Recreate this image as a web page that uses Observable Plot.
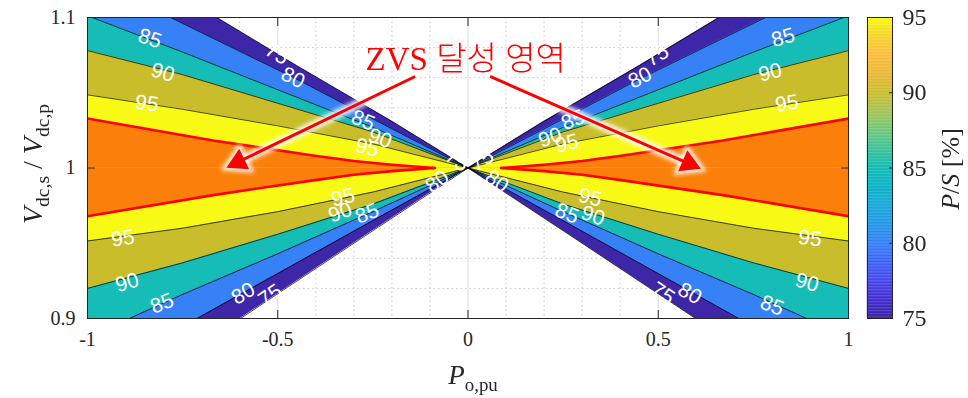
<!DOCTYPE html>
<html><head><meta charset="utf-8">
<script src="https://cdn.jsdelivr.net/npm/d3@7"></script>
<script src="https://cdn.jsdelivr.net/npm/@observablehq/plot@0.6"></script>
<style>
body{margin:0;background:#fff;}
#wrap{position:relative;width:968px;height:398px;overflow:hidden;background:#fff;}
#wrap svg{position:absolute;left:0;top:0;}
.lab{position:absolute;font-family:"Liberation Serif",serif;color:#262626;white-space:nowrap;line-height:1;}
.lab sub{font-size:0.7em;vertical-align:baseline;position:relative;top:0.35em;}
</style></head><body><div id="wrap"></div>
<script>
// ---- contour levels and band colours ----
const levels = [75, 80, 85, 90, 95];
const bandColors = ["#3e26a8", "#3581f5", "#15bdb6", "#c9bd2b", "#f8fa16"];
const zvsColor = "#fa800b";

// ---- contour lines, right half (P >= 0): [P_o,pu, Vs/Vp]; left half is the mirror ----
const up75 = [[0,1],[0.2,1.031],[0.45,1.068],[0.66,1.1]];
const up80 = [[0,1],[0.2,1.026],[0.45,1.059],[0.782,1.1]];
const up85 = [[0,1],[0.25,1.027],[0.5,1.052],[0.75,1.077],[0.988,1.1]];
const up90 = [[0,1],[0.25,1.024],[0.5,1.043],[0.75,1.062],[1,1.078]];
const up95 = [[0,1],[0.25,1.016],[0.5,1.028],[0.75,1.039],[1,1.0486]];
const lo75 = [[0,1],[0.3,0.95],[0.598,0.9]];
const lo80 = [[0,1],[0.3,0.958],[0.712,0.9]];
const lo85 = [[0,1],[0.25,0.971],[0.5,0.943],[0.75,0.916],[0.89,0.9]];
const lo90 = [[0,1],[0.25,0.976],[0.5,0.956],[0.75,0.937],[1,0.920]];
const lo95 = [[0,1],[0.25,0.984],[0.5,0.971],[0.75,0.960],[1,0.9515]];
// ZVS region boundaries (red)
const redUp = [[0.087,1],[0.2,1.0022],[0.3,1.0047],[0.407,1.0083],[0.67,1.0183],[1,1.0329]];
const redLo = [[0.087,1],[0.2,0.9979],[0.3,0.9955],[0.407,0.9918],[0.67,0.982],[1,0.968]];

// ---- contour labels ----
const labText = ["85","90","95","75","80","85","90","95",
                 "75","80","85","90","95","85","90","95",
                 "95","90","85","80","75","95","90","85",
                 "95","90","85","80","75","95","90","85",
                 "80","75","75","80"];
const labX = [-0.836,-0.802,-0.844,-0.502,-0.46,-0.276,-0.231,-0.265,
              0.497,0.452,0.828,0.794,0.838,0.276,0.216,0.26,
              -0.907,-0.896,-0.804,-0.591,-0.52,-0.3285,-0.336,-0.265,
              0.899,0.891,0.799,0.583,0.512,0.321,0.3285,0.26,
              -0.081,-0.029,0.037,0.076];
const labV = [1.086,1.0635,1.0429,1.076,1.060,1.0316,1.0196,1.0136,
              1.0747,1.060,1.0867,1.0635,1.0429,1.0319,1.0203,1.0163,
              0.9532,0.9239,0.91,0.9166,0.9153,0.9804,0.9704,0.9698,
              0.9532,0.9239,0.9086,0.9166,0.9166,0.9804,0.9684,0.9698,
              0.991,1.005,1.005,0.991];
const labAngle = [18,16,8,31,27,22,20,14,
                  -31,-27,-16,-14,-8,-22,-20,-14,
                  -8,-16,-22,-30,-34,-14,-20,-22,
                  8,16,22,30,34,14,20,22,
                  -35,35,-35,35];

// ---- annotation ----
const zvsText = ["ZVS 달성 영역"];
const zvsX = [-0.006], zvsV = [1.0721];
const arrowX1 = [-0.139, 0.058], arrowV1 = [1.0608, 1.0608];
const arrowX2 = [-0.633, 0.61],  arrowV2 = [1.0005, 0.9997];

// ---- axes ----
const xTicks = [-1, -0.5, 0, 0.5, 1];
const yTicks = [0.9, 1, 1.1];
const xMajorGrid = [-0.5, 0, 0.5];
const yMajorGrid = [1];
const xMinorGrid = [-0.9,-0.8,-0.7,-0.6,-0.4,-0.3,-0.2,-0.1,0.1,0.2,0.3,0.4,0.6,0.7,0.8,0.9];
const yMinorGrid = [0.92,0.94,0.96,0.98,1.02,1.04,1.06,1.08];

// ---- colour bar ----
const cbTicks = [75, 80, 85, 90, 95];
const parulaStops = [75,76.25,77.5,78.75,80,81.25,82.5,83.75,85,86.25,87.5,88.75,90,91.25,92.5,93.75,95];
const parulaColors = ["#3e26a8","#4530cf","#4747eb","#3c63f8","#3380f5","#2495e6","#1aa7da","#0cb4c7",
                      "#15bdb5","#3ec39a","#70c779","#a4c455","#cabd2c","#eab83a","#fcbd3d","#f4d52f","#f9fb15"];

// ================= build =================
const W = 968, H = 398, mL = 87, mR = 120, mT = 17, mB = 80;
const kx = (W - mL - mR) / 2, ky = (H - mT - mB) / 0.2;
const fontSerif = "Liberation Serif, Times New Roman, serif";

const upper = [up75, up80, up85, up90, up95];
const lower = [lo75, lo80, lo85, lo90, lo95];
const fillRows = [], lineRows = [], redRows = [];
for (const s of [1, -1]) {
  levels.forEach((L, i) => {
    for (const [half, curve] of [["u", upper[i]], ["l", lower[i]]]) {
      const key = `${s}${half}${L}`;
      curve.forEach(([x, v]) => lineRows.push({key, x: s * x, v}));
      const pts = curve.slice();
      const last = pts[pts.length - 1];
      if (last[0] < 1) pts.push([1, last[1]]);
      pts.forEach(([x, v]) => fillRows.push({key, x: s * x, v, base: 1, fill: bandColors[i]}));
    }
  });
  for (const [half, curve] of [["u", redUp], ["l", redLo]]) {
    const key = `${s}${half}zvs`;
    curve.forEach(([x, v]) => {
      fillRows.push({key, x: s * x, v, base: 1, fill: zvsColor});
      redRows.push({key, x: s * x, v});
    });
  }
}

const labels = labText.map((t, i) => ({t, x: labX[i], v: labV[i], a: labAngle[i]}));

const headR = 8.5;
const arrows = arrowX1.map((_, i) => {
  const dxp = (arrowX2[i] - arrowX1[i]) * kx, dyp = -(arrowV2[i] - arrowV1[i]) * ky;
  const len = Math.hypot(dxp, dyp), ux = dxp / len, uy = dyp / len, back = 1.45 * headR;
  return {x1: arrowX1[i], v1: arrowV1[i],
          hx: arrowX2[i] - ux * back / kx, hv: arrowV2[i] + uy * back / ky,
          rot: Math.atan2(ux, -uy) * 180 / Math.PI};
});

const main = Plot.plot({
  width: W, height: H, marginLeft: mL, marginRight: mR, marginTop: mT, marginBottom: mB,
  x: {domain: [-1, 1], label: null},
  y: {domain: [0.9, 1.1], label: null},
  style: {fontFamily: fontSerif, fontSize: "20px", color: "#262626", background: "transparent", overflow: "visible"},
  marks: [
    Plot.ruleX(xMinorGrid, {stroke: "#c8c8c8", strokeDasharray: "1.5,3"}),
    Plot.ruleY(yMinorGrid, {stroke: "#c8c8c8", strokeDasharray: "1.5,3"}),
    Plot.ruleX(xMajorGrid, {stroke: "#e2e2e2", strokeWidth: 1.2}),
    Plot.ruleY(yMajorGrid, {stroke: "#e2e2e2", strokeWidth: 1.2}),
    Plot.areaY(fillRows, {x: "x", y1: "base", y2: "v", z: "key", fill: "fill", clip: true}),
    Plot.line(lineRows, {x: "x", y: "v", z: "key", stroke: "#000", strokeWidth: 0.7, clip: true}),
    Plot.line(redRows, {x: "x", y: "v", z: "key", stroke: "#ff0000", strokeWidth: 2.6, clip: true}),
    Plot.text(labels, {x: "x", y: "v", text: "t", rotate: "a", fill: "white", fontSize: 21,
      fontFamily: "Liberation Sans, Arial, sans-serif", clip: true}),
    // arrow halos
    Plot.link(arrows, {x1: "x1", y1: "v1", x2: "hx", y2: "hv", stroke: "white", strokeWidth: 9, strokeOpacity: 0.9}),
    Plot.dot(arrows, {x: "hx", y: "hv", r: headR + 4, symbol: "triangle", rotate: "rot", fill: "white", fillOpacity: 0.9}),
    // arrows
    Plot.link(arrows, {x1: "x1", y1: "v1", x2: "hx", y2: "hv", stroke: "#ff0000", strokeWidth: 3}),
    Plot.dot(arrows, {x: "hx", y: "hv", r: headR, symbol: "triangle", rotate: "rot", fill: "#ff0000"}),
    Plot.text(zvsText, {x: zvsX, y: zvsV, text: d => d, fill: "#ff0000", fontSize: 33, fontWeight: 300,
      fontFamily: "Liberation Serif, Noto Sans CJK KR, serif", textAnchor: "middle", lineAnchor: "middle"}),
    Plot.axisX(xTicks, {anchor: "bottom", tickSize: -8, tickPadding: 21, tickFormat: d => String(d), fontSize: 20, stroke: "#262626"}),
    Plot.axisX(xTicks, {anchor: "top", tickSize: -8, tickFormat: () => "", stroke: "#262626"}),
    Plot.axisY(yTicks, {anchor: "left", tickSize: -8, tickPadding: 20, tickFormat: d => String(d), fontSize: 20, stroke: "#262626"}),
    Plot.axisY(yTicks, {anchor: "right", tickSize: -8, tickFormat: () => "", stroke: "#262626"}),
    Plot.frame({stroke: "#262626", strokeWidth: 1})
  ]
});

// soft glow for arrow halos
const s = d3.select(main);
s.insert("defs", ":first-child").html('<filter id="glow" x="-50%" y="-50%" width="200%" height="200%"><feGaussianBlur stdDeviation="2.2"/></filter>');
const links = s.selectAll('g[aria-label="link"]').nodes();
const dots = s.selectAll('g[aria-label="dot"]').nodes();
if (links[0]) links[0].setAttribute("filter", "url(#glow)");
if (dots[0]) dots[0].setAttribute("filter", "url(#glow)");

const cbSteps = d3.range(75, 95, 0.1);
const cbar = Plot.plot({
  width: W, height: H, marginLeft: 867, marginRight: W - 892, marginTop: mT, marginBottom: mB,
  x: {domain: [0, 1], axis: null},
  y: {domain: [75, 95], label: null},
  color: {type: "linear", domain: parulaStops, range: parulaColors, interpolate: "rgb"},
  style: {fontFamily: fontSerif, fontSize: "24px", color: "#262626", background: "transparent", overflow: "visible"},
  marks: [
    Plot.rect(cbSteps, {x1: 0, x2: 1, y1: d => d, y2: d => Math.min(95, d + 0.1), fill: d => d + 0.05, stroke: d => d + 0.05, strokeWidth: 0.3}),
    Plot.axisY(cbTicks, {anchor: "right", tickSize: -4, tickPadding: 14, tickFormat: d => String(d), fontSize: 24, stroke: "#262626"}),
    Plot.frame({stroke: "#262626", strokeWidth: 1})
  ]
});

const wrap = document.getElementById("wrap");
wrap.appendChild(main);
wrap.appendChild(cbar);

function addLabel(html, cx, cy, size, rot) {
  const d = document.createElement("div");
  d.className = "lab";
  d.innerHTML = html;
  d.style.fontSize = size + "px";
  d.style.left = cx + "px";
  d.style.top = cy + "px";
  d.style.transform = `translate(-50%,-50%)${rot ? " rotate(" + rot + "deg)" : ""}`;
  wrap.appendChild(d);
}
addLabel('<i>V</i><sub>dc,s</sub> / <i>V</i><sub>dc,p</sub>', 33, 164, 28, -90);
addLabel('<i>P</i><sub>o,pu</sub>', 473, 375, 27, 0);
addLabel('<i>P</i>/<i>S</i> [%]', 951, 169, 26, -90);
</script></body></html>
